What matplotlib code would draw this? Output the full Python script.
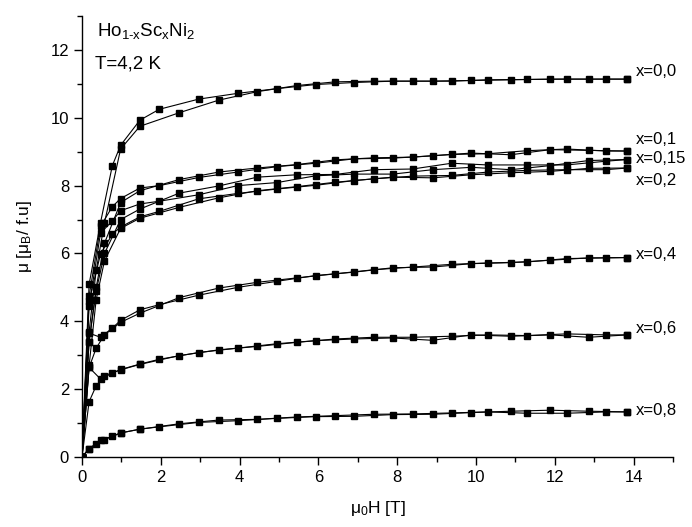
import matplotlib
matplotlib.use("Agg")
import matplotlib.pyplot as plt
from matplotlib.ticker import MultipleLocator

plt.rcParams['font.family'] = ['Liberation Sans', 'DejaVu Sans']
plt.rcParams['mathtext.fontset'] = 'custom'
plt.rcParams['mathtext.rm'] = 'Liberation Sans'
plt.rcParams['mathtext.it'] = 'Liberation Sans'

# field points of the two branches (increasing / decreasing field), T
H_UP = [0, 0.18, 0.36, 0.57, 0.98, 1.47, 2.47, 3.47, 4.45, 5.45, 6.43, 7.40,
        8.39, 9.38, 10.3, 11.3, 12.3, 13.3, 13.84]
H_DN = [13.84, 12.86, 11.88, 10.88, 9.88, 8.9, 7.89, 6.91, 5.93, 4.95, 3.95,
        2.96, 1.96, 1.47, 0.98, 0.77, 0.47, 0.18, 0]

# magnetic moment, mu_B / f.u.
M_00_UP = [0, 3.7, 5.5, 6.9, 9.08, 9.75, 10.15, 10.52, 10.77, 10.95, 11.06, 11.08,
           11.08, 11.08, 11.12, 11.13, 11.14, 11.14, 11.14]
M_00_DN = [11.14, 11.14, 11.14, 11.12, 11.10, 11.08, 11.08, 11.04, 10.98, 10.86, 10.72,
           10.55, 10.25, 9.93, 9.19, 8.59, 6.91, 5.09, 0]

M_01_UP = [0, 3.4, 5.0, 6.3, 7.5, 7.85, 8.18, 8.40, 8.52, 8.62, 8.76, 8.82,
           8.84, 8.92, 8.94, 9.03, 9.08, 9.02, 9.02]
M_01_DN = [9.02, 9.04, 9.06, 8.91, 8.96, 8.88, 8.81, 8.79, 8.66, 8.56, 8.40,
           8.24, 8.00, 7.93, 7.62, 7.38, 6.8, 4.74, 0]

M_015_UP = [0, 3.4, 4.9, 6.0, 7.0, 7.31, 7.78, 7.99, 8.25, 8.32, 8.33, 8.47,
            8.49, 8.66, 8.61, 8.61, 8.61, 8.72, 8.77]
M_015_DN = [8.77, 8.74, 8.59, 8.47, 8.54, 8.47, 8.34, 8.34, 8.29, 8.09, 8.00,
            7.73, 7.54, 7.46, 7.26, 6.96, 6.6, 4.45, 0]

M_02_UP = [0, 2.7, 4.64, 5.78, 6.74, 7.04, 7.36, 7.64, 7.85, 7.97, 8.10, 8.20,
           8.28, 8.30, 8.40, 8.45, 8.47, 8.47, 8.52]
M_02_DN = [8.52, 8.51, 8.42, 8.38, 8.32, 8.23, 8.25, 8.15, 8.01, 7.90, 7.77,
           7.61, 7.24, 7.08, 6.78, 6.57, 5.98, 4.6, 0]

M_04_UP = [0, 2.64, 3.21, 3.6, 3.97, 4.24, 4.70, 4.98, 5.15, 5.28, 5.40, 5.52,
           5.60, 5.68, 5.72, 5.75, 5.85, 5.87, 5.88]
M_04_DN = [5.88, 5.87, 5.80, 5.73, 5.70, 5.60, 5.58, 5.45, 5.35, 5.18, 5.00,
           4.77, 4.49, 4.34, 4.03, 3.80, 3.53, 3.65, 0]

M_06_UP = [0, 1.63, 2.10, 2.40, 2.57, 2.73, 2.99, 3.16, 3.26, 3.38, 3.48, 3.53,
           3.53, 3.56, 3.60, 3.58, 3.63, 3.60, 3.60]
M_06_DN = [3.60, 3.53, 3.60, 3.56, 3.60, 3.44, 3.51, 3.48, 3.43, 3.34, 3.21,
           3.08, 2.88, 2.74, 2.58, 2.47, 2.30, 2.64, 0]

M_08_UP = [0, 0.25, 0.37, 0.51, 0.71, 0.82, 0.98, 1.09, 1.11, 1.18, 1.22, 1.26,
           1.27, 1.30, 1.33, 1.29, 1.29, 1.33, 1.33]
M_08_DN = [1.33, 1.35, 1.38, 1.35, 1.31, 1.26, 1.25, 1.20, 1.19, 1.14, 1.07,
           1.02, 0.89, 0.82, 0.71, 0.61, 0.49, 0.25, 0]

LABELS = ["x=0,0", "x=0,1", "x=0,15", "x=0,2", "x=0,4", "x=0,6", "x=0,8"]
LABEL_Y = [11.35, 9.36, 8.8, 8.15, 5.98, 3.79, 1.36]

curves = [(M_00_UP, M_00_DN), (M_01_UP, M_01_DN), (M_015_UP, M_015_DN),
          (M_02_UP, M_02_DN), (M_04_UP, M_04_DN), (M_06_UP, M_06_DN),
          (M_08_UP, M_08_DN)]

fig = plt.figure(figsize=(6.92, 5.27), dpi=100)
ax = fig.add_axes([0.1185, 0.1328, 0.854, 0.8368])

for m_up, m_dn in curves:
    ax.plot(H_UP, m_up, color='black', lw=0.8, marker='s', ms=4.3,
            mec='black', mfc='black')
    ax.plot(H_DN, m_dn, color='black', lw=0.8, marker='s', ms=4.3,
            mec='black', mfc='black')

for lab, y in zip(LABELS, LABEL_Y):
    ax.text(14.05, y, lab, fontsize=12, ha='left', va='center', clip_on=False)

ax.text(0.38, 12.55, r'Ho$_{\text{1-x}}$Sc$_{\text{x}}$Ni$_{\text{2}}$',
        fontsize=13.5, ha='left', va='center')
ax.text(0.33, 11.6, 'T=4,2 K', fontsize=13.5, ha='left', va='center')

ax.set_xlim(0, 15)
ax.set_ylim(0, 13)
ax.xaxis.set_major_locator(MultipleLocator(2))
ax.xaxis.set_minor_locator(MultipleLocator(1))
ax.yaxis.set_major_locator(MultipleLocator(2))
ax.yaxis.set_minor_locator(MultipleLocator(1))
ax.set_xticks(range(0, 15, 2))
ax.set_yticks(range(0, 13, 2))

for side in ['top', 'right']:
    ax.spines[side].set_visible(False)
for side in ['left', 'bottom']:
    ax.spines[side].set_linewidth(1.0)

ax.tick_params(which='major', direction='out', length=5.8, width=1.0, labelsize=12)
ax.tick_params(which='minor', direction='out', length=3.6, width=1.0)

ax.set_xlabel('μ$_0$H [T]', fontsize=12.5, labelpad=10)
ax.set_ylabel('μ [μ$_B$/ f.u]', fontsize=12.5, labelpad=12)

fig.savefig('out.png', dpi=100)
